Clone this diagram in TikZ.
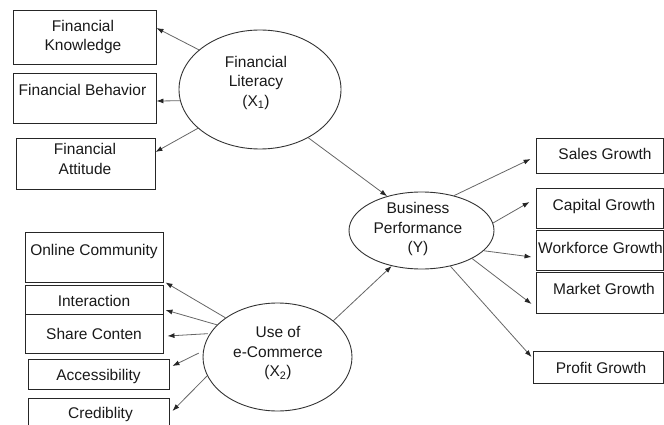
\documentclass[tikz,border=0pt]{standalone}
\usepackage{fontspec}
\setmainfont{Liberation Sans}
\usetikzlibrary{shapes.geometric,arrows.meta,calc}
\begin{document}
\begin{tikzpicture}[x=1pt,y=-1pt,
  box/.style={draw=black!85,line width=0.9pt,rectangle,inner sep=0pt},
  latent/.style={draw=black!80,line width=0.9pt,ellipse,inner sep=0pt,align=center,font=\fontsize{15.5}{19.5}\selectfont},
  txt/.style={align=center,inner sep=0pt,font=\fontsize{15.5}{19.5}\selectfont,text=black!90},
  conn/.style={draw=black!60,line width=0.8pt,-{Latex[length=7pt,width=5pt,color=black!85]}}]
\useasboundingbox (0,0) rectangle (664,425);
% boxes: left
\node[box,minimum width=143,minimum height=54] (FK) at (84.5,37) {};
\node[box,minimum width=143,minimum height=50] (FB) at (84.5,98) {};
\node[box,minimum width=139,minimum height=51] (FA) at (85.5,163.5) {};
\node[box,minimum width=138,minimum height=50] (OC) at (94,257) {};
\node[box,minimum width=138,minimum height=29] (Int) at (94,299.5) {};
\node[box,minimum width=138,minimum height=39] (SC) at (94,333.5) {};
\node[box,minimum width=141,minimum height=30] (Acc) at (98.5,374) {};
\node[box,minimum width=141,minimum height=34] (Cred) at (98.5,415) {};
% boxes: right
\node[box,minimum width=127,minimum height=35] (Sales) at (599.5,155.5) {};
\node[box,minimum width=127,minimum height=40] (Cap) at (599.5,208) {};
\node[box,minimum width=127,minimum height=40] (Work) at (599.5,250) {};
\node[box,minimum width=127,minimum height=41] (Mkt) at (599.5,292.5) {};
\node[box,minimum width=130,minimum height=32] (Profit) at (598,367) {};
% texts
\node[txt] (tFK) at (83,37) {Financial\\Knowledge};
\node[txt] (tFB) at (82.5,90) {Financial Behavior};
\node[txt] (tFA) at (85,159) {Financial\\Attitude};
\node[txt] (tOC) at (94,251) {Online Community};
\node[txt] (tInt) at (94,301) {Interaction};
\node[txt] (tSC) at (94,334) {Share Conten};
\node[txt] (tAcc) at (98.5,376) {Accessibility};
\node[txt] (tCred) at (100.5,414) {Crediblity};
\node[txt] (tSales) at (605,154) {Sales Growth};
\node[txt] (tCap) at (604,206) {Capital Growth};
\node[txt] (tWork) at (600.5,248) {Workforce Growth};
\node[txt] (tMkt) at (604,289) {Market Growth};
\node[txt] (tProfit) at (601,368) {Profit Growth};
% latent variables
\node[latent,minimum width=162,minimum height=119] (FL) at (260,89.5) {};
\node[txt] (tFL) at (256,82.5) {Financial\\Literacy\\(X\textsubscript{1})};
\node[latent,minimum width=149,minimum height=108] (EC) at (277.5,357) {};
\node[txt] (tEC) at (278,353) {Use of\\e-Commerce\\(X\textsubscript{2})};
\node[latent,minimum width=145,minimum height=77] (BP) at (421.5,230.5) {};
\node[txt] (tBP) at (418,229) {Business\\Performance\\(Y)};
% connectors
\draw[conn] (FL.147.9) -- (FK.east |- 0,28);
\draw[conn] (FL.188.5) -- (FB.east |- 0,101);
\draw[conn] (FL.212.7) -- (FA.east |- 0,152);
\draw[conn] (FL.315.8) -- (BP.135);
\draw[conn] (EC.33.4) -- (BP.230.6);
\draw[conn] (EC.143.2) -- ([xshift=2]OC.south east);
\draw[conn] (EC.152.1) -- ([xshift=2]Int.east |- 0,310);
\draw[conn] ([xshift=-2]EC.161) -- ([xshift=4]SC.east |- 0,336);
\draw[conn] ([xshift=-4]EC.177.1) -- ([xshift=3]Acc.east |- 0,366);
\draw[conn] (EC.195.9) -- ([xshift=3]Cred.east |- 0,411);
\draw[conn] (BP.47.5) -- ([xshift=-5]Sales.west |- 0,159);
\draw[conn] (BP.6.7) -- ([xshift=-6]Cap.west |- 0,202);
\draw[conn] (BP.-18.7) -- ([xshift=-4]Work.west |- 0,257);
\draw[conn] (BP.-29.8) -- ([xshift=-4]Mkt.west |- 0,304);
\draw[conn] (BP.-51.4) -- ([xshift=-1]Profit.west |- 0,357);
\end{tikzpicture}
\end{document}
